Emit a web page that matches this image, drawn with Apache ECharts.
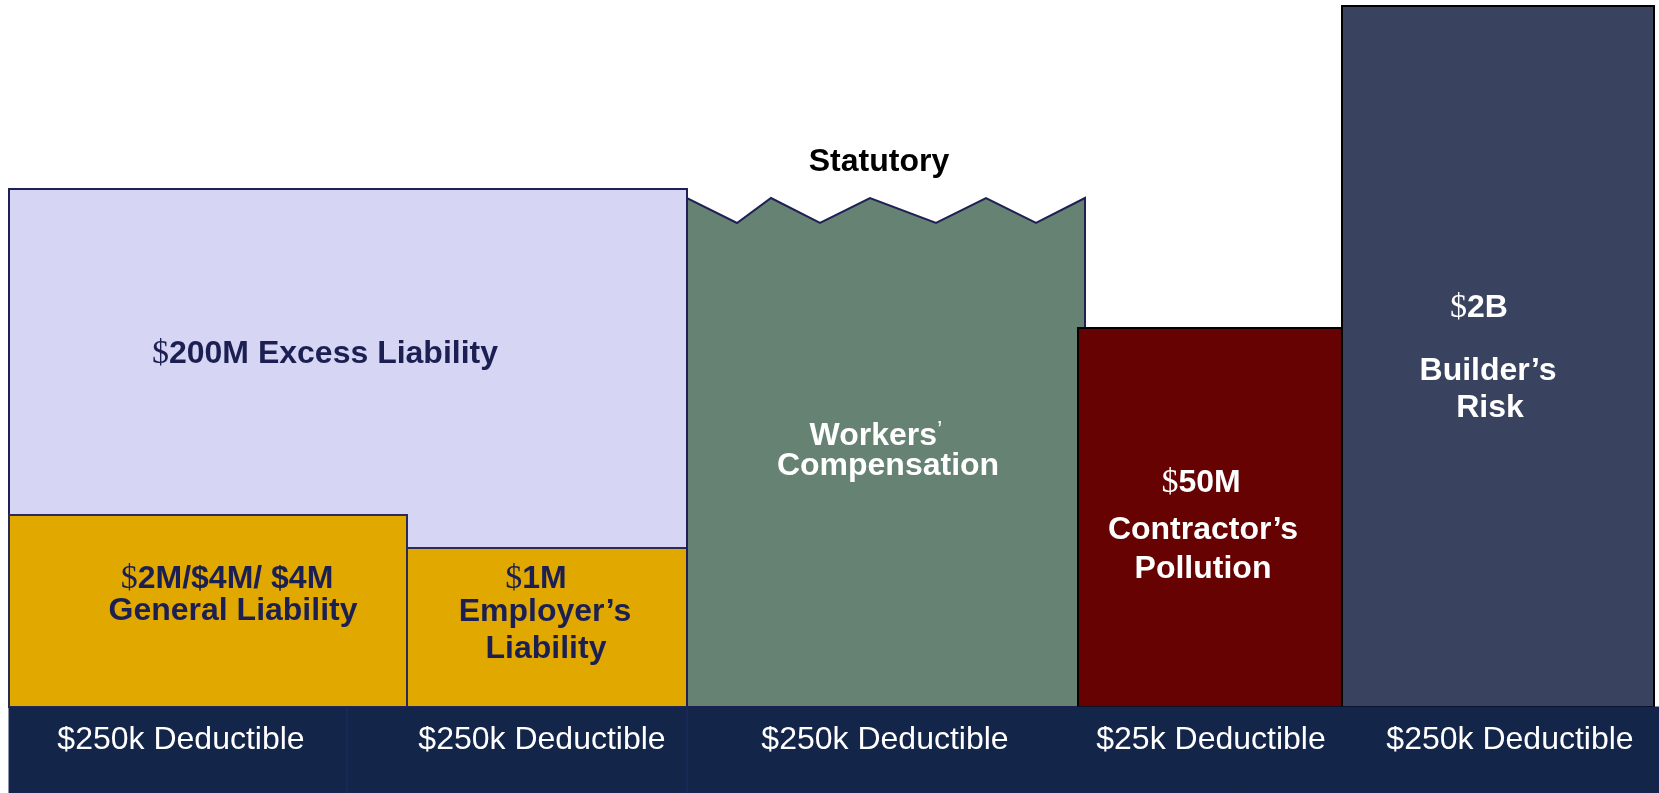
<!DOCTYPE html>
<html><head><meta charset="utf-8">
<script src="https://cdn.jsdelivr.net/npm/echarts@6/dist/echarts.min.js"></script>
<style>html,body{margin:0;padding:0;background:#fff;overflow:hidden}#c{width:1659px;height:793px}</style>
</head><body><div id="c"></div>
<script>
// ---- data (axis units: x across the page, y = height above the deductible band) ----
const blockNames  = ['Excess Liability', 'General Liability', "Employer's Liability", "Workers' Compensation", "Contractor's Pollution", "Builder's Risk"];
const blockLeft   = [9, 9, 407, 687, 1078, 1342];
const blockRight  = [687, 407, 687, 1085, 1342, 1654];
const blockTop    = [518, 192, 159, 509, 379, 701];
// statutory (unlimited) top edge of Workers' Compensation
const zigX = [687, 737, 771, 820, 870, 936, 986, 1036, 1085];
const zigY = [509, 484, 509, 484, 509, 484, 509, 484, 509];
// deductible band
const bandX = [9, 1659];
const bandY = [-86, 0];
const bandDividers = [347, 687];
const deductibleLabels = ['$250k Deductible', '$250k Deductible', '$250k Deductible', '$25k Deductible', '$250k Deductible'];
const deductibleX = [181, 542, 885, 1211, 1510];
const deductibleY = [-33, -33, -33, -33, -33];
// block label lines
const labelText = ['{s|$}{b|200M Excess Liability}', '{s|$}{b|2M/$4M/ $4M}', '{b|General Liability}',
  '{s|$}{b|1M}', "{b|Employer’s}", '{b|Liability}', '{b|Statutory}',
  '{b|Workers}{q|’}', '{b|Compensation}', '{s|$}{b|50M}', "{b|Contractor’s}", '{b|Pollution}',
  '{s|$}{b|2B}', "{b|Builder’s}", '{b|Risk}'];
const labelX = [325, 227, 233, 536, 545, 546, 879, 876, 888, 1201, 1203, 1203, 1479, 1488, 1490];
const labelY = [353, 128, 96, 128, 95, 58, 545, 271, 241, 224, 177, 138, 399, 336, 299];
const labelTone = ['dark', 'dark', 'dark', 'dark', 'dark', 'dark', 'black', 'light', 'light', 'light', 'light', 'light', 'light', 'light', 'light'];

// ---- styles ----
const fills   = ['#d6d6f4', '#e1a900', '#e1a900', '#658272', '#660202', '#39435f'];
const strokes = ['#1f2054', '#2a2c55', '#2a2c55', '#1f2054', '#000000', '#000000'];
const toneColor = {dark: '#1c1f52', black: '#000000', light: '#ffffff'};
const SANS = '"Liberation Sans", Arial, sans-serif';
const SERIF = '"Liberation Serif", "Times New Roman", serif';

const chart = echarts.init(document.getElementById('c'), null, {renderer: 'canvas'});

function renderBlock(params, api) {
  const i = params.dataIndex;
  const style = {fill: fills[i], stroke: strokes[i], lineWidth: 2};
  if (i === 3) {
    const pts = [api.coord([blockLeft[i], 0])];
    zigX.forEach((x, k) => pts.push(api.coord([x, zigY[k]])));
    pts.push(api.coord([blockRight[i], 0]));
    return {type: 'polygon', shape: {points: pts}, style: style};
  }
  const p0 = api.coord([blockLeft[i], blockTop[i]]);
  const p1 = api.coord([blockRight[i], 0]);
  return {type: 'rect', shape: {x: p0[0], y: p0[1], width: p1[0] - p0[0], height: p1[1] - p0[1]}, style: style};
}

function renderBand(params, api) {
  const p0 = api.coord([bandX[0], bandY[1]]);
  const p1 = api.coord([bandX[1], bandY[0]]);
  const children = [{type: 'rect', shape: {x: p0[0], y: p0[1], width: p1[0] - p0[0], height: p1[1] - p0[1]},
    style: {fill: '#14254a', stroke: '#1b2352', lineWidth: 1}}];
  bandDividers.forEach(d => {
    const a = api.coord([d, bandY[1]]), b = api.coord([d, bandY[0]]);
    children.push({type: 'line', shape: {x1: a[0], y1: a[1], x2: b[0], y2: b[1]}, style: {stroke: '#1e2a5c', lineWidth: 1.5}});
  });
  deductibleLabels.forEach((t, k) => {
    const p = api.coord([deductibleX[k], deductibleY[k]]);
    children.push({type: 'text', style: {text: t, x: p[0], y: p[1], align: 'center', verticalAlign: 'middle',
      fill: '#ffffff', font: '32px ' + SANS}});
  });
  return {type: 'group', children: children};
}

function renderLabel(params, api) {
  const i = params.dataIndex;
  const p = api.coord([labelX[i], labelY[i]]);
  const col = toneColor[labelTone[i]];
  return {type: 'text', style: {text: labelText[i], x: p[0], y: p[1], align: 'center', verticalAlign: 'middle', fill: col,
    rich: {
      b: {fontFamily: SANS, fontWeight: 'bold', fontSize: 32, fill: col, color: col},
      s: {fontFamily: SERIF, fontWeight: 'normal', fontSize: 34, fill: col, color: col},
      q: {fontFamily: SANS, fontWeight: 'normal', fontSize: 24, fill: col, color: col, verticalAlign: 'top', padding: [0, 0, 10, 0]}
    }}};
}

chart.setOption({
  animation: false,
  backgroundColor: '#ffffff',
  grid: {left: 0, right: 0, top: 0, bottom: 0},
  xAxis: {type: 'value', min: 0, max: 1659, show: false},
  yAxis: {type: 'value', min: -86, max: 707, show: false},
  series: [
    {type: 'custom', name: 'coverages', renderItem: renderBlock, data: blockNames.map((n, i) => ({name: n, value: [blockLeft[i], blockTop[i]]})), clip: false, z: 1},
    {type: 'custom', name: 'deductibles', renderItem: renderBand, data: [[bandX[0], bandY[0]]], clip: false, z: 2},
    {type: 'custom', name: 'labels', renderItem: renderLabel, data: labelText.map((t, i) => [labelX[i], labelY[i]]), clip: false, z: 3}
  ]
});
</script></body></html>
